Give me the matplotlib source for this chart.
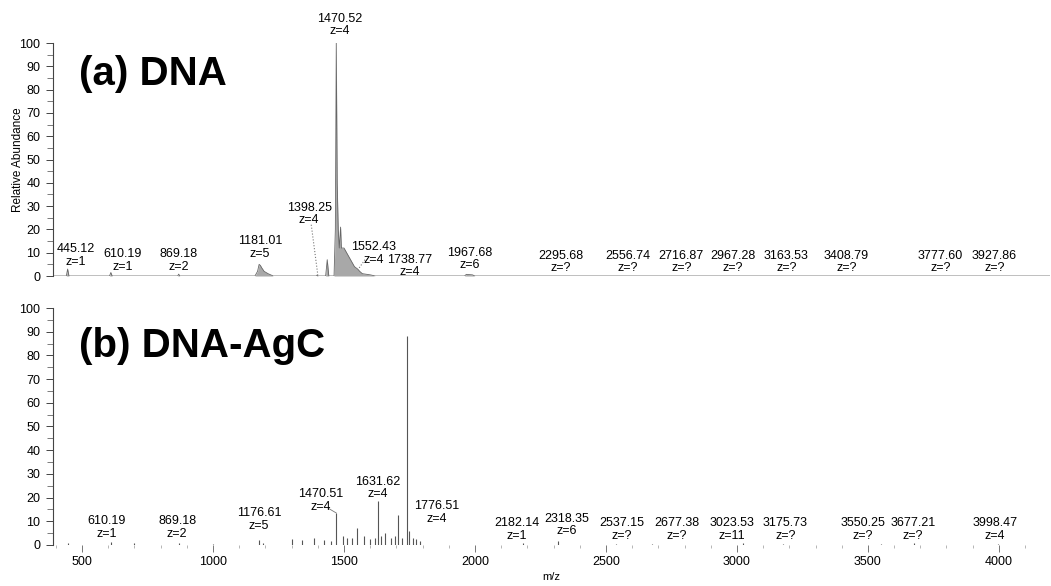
import numpy as np
import matplotlib
matplotlib.use("Agg")
import matplotlib.pyplot as plt
from matplotlib.ticker import MultipleLocator

plt.rcParams['font.family'] = ['Liberation Sans', 'DejaVu Sans']

# (a) DNA - profile spectrum, m/z and relative abundance
dna_mz = [390, 440, 445, 450, 605, 610, 615, 865, 869, 873, 1160, 1170, 1176, 1181,
          1186, 1195, 1210, 1230, 1395, 1398, 1401, 1430, 1436, 1442, 1462, 1467,
          1470.5, 1474, 1478, 1482, 1487, 1490, 1500, 1510, 1520, 1530, 1540, 1552,
          1560, 1570, 1600, 1620, 1960, 1967, 1990, 2000, 4195]
dna_int = [0, 0, 3, 0, 0, 1.5, 0, 0, 0.8, 0, 0, 2, 5, 4.5,
           3.5, 2, 1, 0, 0, 0.5, 0, 0, 7, 0, 0, 20,
           100, 40, 20, 12, 21, 12, 12, 10, 8, 6, 4, 3,
           2, 1, 0.5, 0, 0, 0.7, 0.5, 0, 0]

# (b) DNA-AgC - centroid sticks
agc_mz = [445, 610, 700, 869, 1000, 1176.6, 1190, 1300, 1340, 1387, 1425, 1450,
          1470.5, 1497, 1510, 1530, 1550, 1576, 1600, 1620, 1631.6, 1640, 1655,
          1680, 1695, 1708, 1720, 1738.8, 1750, 1765, 1776.5, 1790, 2182, 2318,
          2537, 2677, 3023, 3176, 3550, 3677, 3998]
agc_int = [1, 1.2, 0.8, 1, 0.6, 2, 1, 2.5, 2, 3, 2, 1.5,
           13.5, 4, 3, 3, 7, 4, 2.5, 3, 18.5, 4, 5,
           3, 4, 12.5, 3, 88, 6, 3, 2.5, 1.5, 1, 1.5,
           0.6, 0.6, 0.8, 0.6, 0.6, 0.8, 0.6]

# peak annotations
dna_lab = ["445.12\nz=1", "610.19\nz=1", "869.18\nz=2", "1181.01\nz=5", "1398.25\nz=4",
           "1470.52\nz=4", "1552.43\nz=4", "1967.68\nz=6", "2295.68\nz=?", "2556.74\nz=?",
           "2716.87\nz=?", "2967.28\nz=?", "3163.53\nz=?", "3408.79\nz=?", "3777.60\nz=?",
           "3927.86\nz=?"]
dna_lab_x = [477, 656, 870, 1180, 1367, 1485, 1613, 1980, 2327, 2582,
             2788, 2983, 3189, 3418, 3777, 3983]
dna_lab_y = [8.8, 6.7, 6.7, 12.2, 26.6, 107.7, 9.7, 7.3, 6, 6,
             6, 6, 6, 6, 6, 6]

agc_lab = ["610.19\nz=1", "869.18\nz=2", "1176.61\nz=5", "1470.51\nz=4", "1631.62\nz=4",
           "1738.77\nz=4", "1776.51\nz=4", "2182.14\nz=1", "2318.35\nz=6", "2537.15\nz=?",
           "2677.38\nz=?", "3023.53\nz=11", "3175.73\nz=?", "3550.25\nz=?", "3677.21\nz=?",
           "3998.47\nz=4"]
agc_lab_x = [595, 863, 1176, 1410, 1628, 1750, 1853, 2160, 2350, 2560,
             2770, 2980, 3185, 3480, 3672, 3985]
agc_lab_y = [7.4, 7.4, 10.8, 18.8, 24.1, 117.7, 13.7, 6.5, 8.4, 6.5,
             6.5, 6.5, 6.5, 6.5, 6.5, 6.5]

XLIM = (389, 4195)

fig = plt.figure(figsize=(10.51, 5.86), dpi=100)
ax1 = fig.add_axes([0.0504, 0.529, 0.9486, 0.3976])
ax2 = fig.add_axes([0.0504, 0.070, 0.9486, 0.4044])

for ax in (ax1, ax2):
    ax.set_xlim(XLIM)
    ax.set_ylim(0, 100)
    for s in ('top', 'right', 'bottom'):
        ax.spines[s].set_visible(False)
    ax.spines['left'].set_color('#444444')
    ax.spines['left'].set_linewidth(0.8)
    ax.yaxis.set_major_locator(MultipleLocator(10))
    ax.yaxis.set_minor_locator(MultipleLocator(5))
    ax.tick_params(axis='y', which='major', length=5, width=0.7, color='#444444',
                   labelsize=9, pad=4)
    ax.tick_params(axis='y', which='minor', length=4, width=0.6, color='#666666')

# top spectrum
ax1.fill_between(dna_mz, 0, dna_int, color='#a8a8a8', lw=0)
ax1.plot(dna_mz, dna_int, color='#666666', lw=0.6)
ax1.tick_params(axis='x', which='both', bottom=False, labelbottom=False)
ax1.set_ylabel("Relative Abundance", fontsize=8.5)
ax1.yaxis.set_label_coords(-0.029, 0.5)

for t, x, y in zip(dna_lab, dna_lab_x, dna_lab_y):
    ax1.text(x, y, t, ha='center', va='center', fontsize=9, linespacing=1.05,
             clip_on=False)
# dotted leader lines
ax1.plot([1375, 1400], [22, 0.5], ls=':', color='#777777', lw=0.8)
ax1.plot([1580, 1555], [7, 3], ls=':', color='#777777', lw=0.8)

# bottom spectrum
ax2.vlines(agc_mz, 0, agc_int, color='#555555', lw=0.8)
ax2.xaxis.set_major_locator(MultipleLocator(500))
ax2.xaxis.set_minor_locator(MultipleLocator(100))
ax2.tick_params(axis='x', which='major', length=5, width=0.7, color='#777777',
                labelsize=9, pad=3)
ax2.tick_params(axis='x', which='minor', length=2.5, width=0.6, color='#aaaaaa')
ax2.set_xlabel("m/z", fontsize=8, labelpad=3)

for t, x, y in zip(agc_lab, agc_lab_x, agc_lab_y):
    ax2.text(x, y, t, ha='center', va='center', fontsize=9, linespacing=1.05,
             clip_on=False)
ax2.plot([1440, 1470.5], [15.5, 13.5], color='#777777', lw=0.6)

fig.text(79 / 1051, 1 - 85 / 586, "(a) DNA", fontsize=29, fontweight='bold',
         ha='left', va='baseline')
fig.text(79 / 1051, 1 - 357 / 586, "(b) DNA-AgC", fontsize=29, fontweight='bold',
         ha='left', va='baseline')

fig.savefig("out.png", dpi=100)
